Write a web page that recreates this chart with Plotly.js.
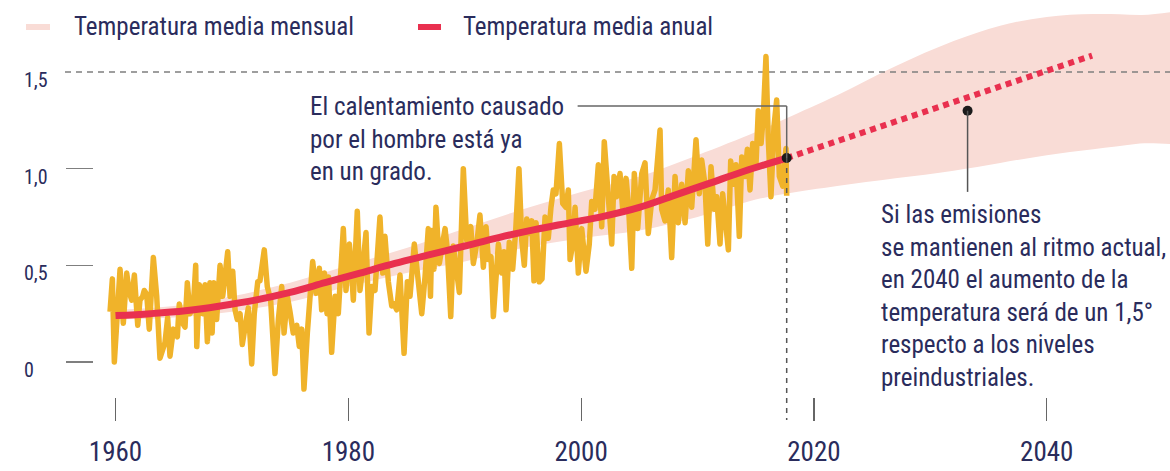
<!DOCTYPE html>
<html><head><meta charset="utf-8">
<script src="https://cdn.plot.ly/plotly-3.0.1.min.js"></script>
<style>
html,body{margin:0;padding:0;background:#fff;}
#chart{width:1170px;height:471px;}
.js-line{stroke-linejoin:round;}
</style></head>
<body><div id="chart"></div>
<script>
// ---- data ----
const monthYears = [1959.53,1959.73,1959.90,1960.15,1960.39,1960.67,1960.96,1961.19,1961.39,1961.62,1961.91,1962.10,1962.34,1962.47,1962.68,1962.90,1963.11,1963.25,1963.54,1963.82,1964.25,1964.48,1964.68,1964.97,1965.31,1965.48,1965.77,1965.97,1966.17,1966.40,1966.68,1966.89,1966.98,1967.20,1967.49,1967.69,1967.89,1968.12,1968.30,1968.45,1968.69,1968.98,1969.21,1969.41,1969.64,1969.84,1970.07,1970.27,1970.46,1970.70,1970.89,1971.13,1971.41,1971.70,1971.92,1972.22,1972.41,1972.78,1973.04,1973.33,1973.70,1973.99,1974.28,1974.48,1974.76,1974.99,1975.27,1975.57,1975.79,1976.00,1976.19,1976.48,1976.94,1977.23,1977.51,1977.71,1977.95,1978.17,1978.30,1978.57,1978.86,1979.14,1979.35,1979.57,1979.80,1980.09,1980.29,1980.43,1980.77,1981.00,1981.24,1981.52,1981.78,1982.01,1982.29,1982.72,1982.96,1983.15,1983.44,1983.73,1983.93,1984.16,1984.44,1984.79,1985.07,1985.30,1985.67,1986.01,1986.31,1986.59,1986.87,1987.06,1987.19,1987.36,1987.53,1987.82,1988.11,1988.31,1988.51,1988.80,1989.02,1989.25,1989.54,1989.88,1990.17,1990.52,1990.74,1991.03,1991.31,1991.60,1991.83,1992.03,1992.26,1992.46,1992.69,1992.89,1993.18,1993.38,1993.55,1993.83,1994.12,1994.38,1994.66,1994.90,1995.12,1995.33,1995.55,1995.76,1995.95,1996.13,1996.41,1996.64,1996.90,1997.18,1997.41,1997.61,1997.84,1998.13,1998.42,1998.70,1998.90,1999.05,1999.28,1999.48,1999.76,2000.05,2000.42,2000.70,2000.91,2001.19,2001.48,2001.77,2001.99,2002.34,2002.63,2002.83,2003.06,2003.34,2003.57,2003.86,2004.06,2004.35,2004.57,2004.86,2005.21,2005.49,2005.77,2006.07,2006.35,2006.78,2006.92,2007.21,2007.49,2007.78,2008.07,2008.35,2008.64,2008.93,2009.21,2009.50,2009.87,2010.15,2010.36,2010.64,2010.88,2011.16,2011.44,2011.65,2011.93,2012.16,2012.45,2012.65,2012.85,2013.08,2013.31,2013.59,2013.80,2014.08,2014.28,2014.51,2014.74,2015.03,2015.22,2015.46,2015.65,2015.88,2016.08,2016.31,2016.57,2016.80,2017.03,2017.32,2017.60,2017.66];
const monthVals = [0.26,0.43,0.00,0.32,0.48,0.20,0.46,0.36,0.32,0.45,0.19,0.32,0.34,0.37,0.35,0.17,0.43,0.54,0.34,0.02,0.10,0.23,0.03,0.17,0.13,0.30,0.20,0.18,0.41,0.25,0.28,0.50,0.08,0.40,0.25,0.40,0.105,0.41,0.15,0.41,0.22,0.50,0.34,0.48,0.57,0.34,0.47,0.27,0.22,0.25,0.09,0.18,0.28,-0.01,0.25,0.415,0.42,0.58,0.39,0.32,-0.06,0.22,0.39,0.15,0.34,0.26,0.15,0.19,0.08,0.17,-0.14,0.15,0.52,0.355,0.485,0.27,0.46,0.25,0.44,0.05,0.34,0.25,0.42,0.69,0.37,0.61,0.46,0.32,0.78,0.37,0.49,0.67,0.15,0.39,0.37,0.75,0.46,0.65,0.415,0.29,0.30,0.27,0.45,0.045,0.415,0.34,0.61,0.42,0.25,0.44,0.69,0.34,0.68,0.48,0.80,0.51,0.60,0.69,0.58,0.235,0.60,0.51,0.36,1.00,0.63,0.70,0.51,0.61,0.76,0.49,0.70,0.53,0.545,0.235,0.51,0.61,0.46,0.57,0.27,0.62,0.48,0.68,1.00,0.63,0.50,0.74,0.665,0.73,0.42,0.72,0.415,0.43,0.75,0.64,0.80,0.89,0.87,1.13,0.82,0.80,0.89,0.53,0.61,0.80,0.46,0.69,0.47,0.61,0.83,0.79,1.02,0.70,1.14,0.82,0.61,0.96,0.855,0.975,0.79,0.95,0.82,0.485,0.975,0.69,0.975,1.03,0.665,0.84,0.89,1.20,0.79,0.73,0.89,0.54,0.96,0.72,0.92,0.72,0.99,0.80,1.15,0.87,1.045,0.92,0.61,1.01,0.79,0.855,0.61,0.87,0.68,0.58,1.04,0.92,1.02,0.65,1.06,0.96,1.10,0.89,1.13,1.03,1.30,1.13,1.27,1.58,1.15,0.855,1.22,1.355,0.96,0.91,1.105,0.86];

const annualYears = [1960,1963,1966,1969,1972,1975,1978,1981,1984,1987,1990,1993,1996,1999,2002,2005,2008,2011,2014,2017.66];
const annualVals  = [0.24,0.25,0.265,0.29,0.32,0.36,0.41,0.46,0.51,0.555,0.60,0.645,0.685,0.72,0.755,0.80,0.862,0.924,0.987,1.055];

const projYears = [2017.66,2030,2043.9];
const projVals  = [1.055,1.304,1.585];

const bandYears = [1960,1965,1970,1975,1980,1985,1990,1995,2000,2005,2010,2015,2017.6,2022,2027,2032,2036,2040,2044,2048,2054];
const bandUpper = [0.27,0.29,0.34,0.41,0.50,0.59,0.69,0.79,0.88,0.96,1.07,1.19,1.26,1.38,1.53,1.66,1.74,1.785,1.80,1.795,1.78];
const bandLower = [0.22,0.23,0.26,0.31,0.39,0.46,0.52,0.59,0.64,0.68,0.75,0.84,0.87,0.91,0.95,0.99,1.03,1.07,1.10,1.13,1.17];

const xTicks = [1960,1980,2000,2020,2040];
const xTickText = ['1960','1980','2000','2020','2040'];
const yTicks = [0,0.5,1.0];
const yLabelVals = [0,0.5,1.0,1.5];
const yLabelText = ['0','0,5','1,0','1,5'];
const targetVal = 1.5;

const calloutYear = 2033.2, calloutVal = 1.30, calloutLineEnd = 0.88;
const noteHeadVal = 1.324, noteHeadYear = 1999.7, dashBottom = -0.30;

const legendLabels = ['Temperatura media mensual','Temperatura media anual'];
const note1 = 'El calentamiento causado<br>por el hombre está ya<br>en un grado.';
const note2 = 'Si las emisiones<br>se mantienen al ritmo actual,<br>en 2040 el aumento de la<br>temperatura será de un 1,5°<br>respecto a los niveles<br>preindustriales.';

// ---- style ----
const FONT = "'Liberation Sans Narrow','Arial Narrow','Roboto Condensed','DejaVu Sans Condensed',sans-serif";
const NAVY = '#2a2c5c';
const PINK = '#f9dcd6';
const RED = '#e9304f';
const YEL = '#f0b32a';
const GREY = '#7f7f7f';

const xRange = [1950.077, 2050.59];
const yRange = [-0.5639, 1.8727];
const yAxisPos = 65/1170;
const refStart = xRange[0] + yAxisPos*(xRange[1]-xRange[0]);

const lastYear = annualYears[annualYears.length-1];
const lastVal = annualVals[annualVals.length-1];

const traces = [
  {x: bandYears.concat(bandYears.slice().reverse()), y: bandUpper.concat(bandLower.slice().reverse()),
   type:'scatter', mode:'lines', fill:'toself', fillcolor:PINK, line:{width:0, shape:'spline', smoothing:1}, hoverinfo:'skip', showlegend:false},
  {x: [refStart, xRange[1]], y: [targetVal, targetVal], type:'scatter', mode:'lines', line:{color:GREY, width:1.5, dash:'6px,5px'}, showlegend:false},
  {x: monthYears, y: monthVals, type:'scatter', mode:'lines', line:{color:YEL, width:5.5}, showlegend:false},
  {x: annualYears, y: annualVals, type:'scatter', mode:'lines', line:{color:RED, width:7, shape:'spline'}, showlegend:false},
  {x: projYears, y: projVals, type:'scatter', mode:'lines', line:{color:RED, width:6, dash:'6px,5px'}, showlegend:false},
  {x: [lastYear, calloutYear], y: [lastVal, calloutVal], type:'scatter', mode:'markers', marker:{color:'#1b1b1b', size:10}, showlegend:false}
];

const shapes = [
  {type:'line', xref:'x', yref:'y', x0:lastYear, x1:lastYear, y0:lastVal, y1:dashBottom, line:{color:'#555', width:1.5, dash:'5px,5px'}},
  {type:'line', xref:'x', yref:'y', x0:lastYear, x1:lastYear, y0:lastVal, y1:noteHeadVal, line:{color:'#666', width:1.5}},
  {type:'line', xref:'x', yref:'y', x0:noteHeadYear, x1:lastYear, y0:noteHeadVal, y1:noteHeadVal, line:{color:'#666', width:1.5}},
  {type:'line', xref:'x', yref:'y', x0:calloutYear, x1:calloutYear, y0:calloutVal, y1:calloutLineEnd, line:{color:'#555', width:1.5}},
  {type:'line', xref:'paper', yref:'paper', x0:26/1170, x1:50/1170, y0:1-27/471, y1:1-27/471, line:{color:PINK, width:6}},
  {type:'line', xref:'paper', yref:'paper', x0:418/1170, x1:441/1170, y0:1-27/471, y1:1-27/471, line:{color:RED, width:6}}
];

const annotations = [
  {xref:'paper', yref:'paper', x:72/1170, y:1-27/471, xanchor:'left', yanchor:'middle', text:legendLabels[0], showarrow:false, font:{family:FONT, size:25, color:NAVY}},
  {xref:'paper', yref:'paper', x:461/1170, y:1-27/471, xanchor:'left', yanchor:'middle', text:legendLabels[1], showarrow:false, font:{family:FONT, size:25, color:NAVY}},
  {xref:'paper', yref:'paper', x:308/1170, y:1-90/471, xanchor:'left', yanchor:'top', align:'left', text:note1, showarrow:false, font:{family:FONT, size:25, color:NAVY}},
  {xref:'paper', yref:'paper', x:879/1170, y:1-198/471, xanchor:'left', yanchor:'top', align:'left', text:note2, showarrow:false, font:{family:FONT, size:25, color:NAVY}}
];
yLabelVals.forEach((v,i)=>annotations.push({xref:'paper', yref:'y', x:22/1170, y:v, yshift:-8, xanchor:'left', yanchor:'middle', text:yLabelText[i], showarrow:false, font:{family:FONT, size:20, color:NAVY}}));

const layout = {
  width:1170, height:471, margin:{l:0,r:0,t:0,b:0}, paper_bgcolor:'#fff', plot_bgcolor:'#fff',
  showlegend:false,
  xaxis:{range:xRange, anchor:'free', position:1-421/471, tickvals:xTicks, ticktext:xTickText,
         ticks:'inside', ticklen:23, tickwidth:1.2, tickcolor:'#666', showgrid:false, zeroline:false, showline:false,
         ticklabelstandoff:12, tickfont:{family:FONT, size:27, color:NAVY}, fixedrange:true},
  yaxis:{range:yRange, anchor:'free', position:yAxisPos, tickvals:yTicks, showticklabels:false,
         ticks:'inside', ticklen:27, tickwidth:1.5, tickcolor:GREY, showgrid:false, zeroline:false, showline:false, fixedrange:true},
  shapes:shapes, annotations:annotations
};

Plotly.newPlot('chart', traces, layout, {displayModeBar:false, staticPlot:true});
</script></body></html>
